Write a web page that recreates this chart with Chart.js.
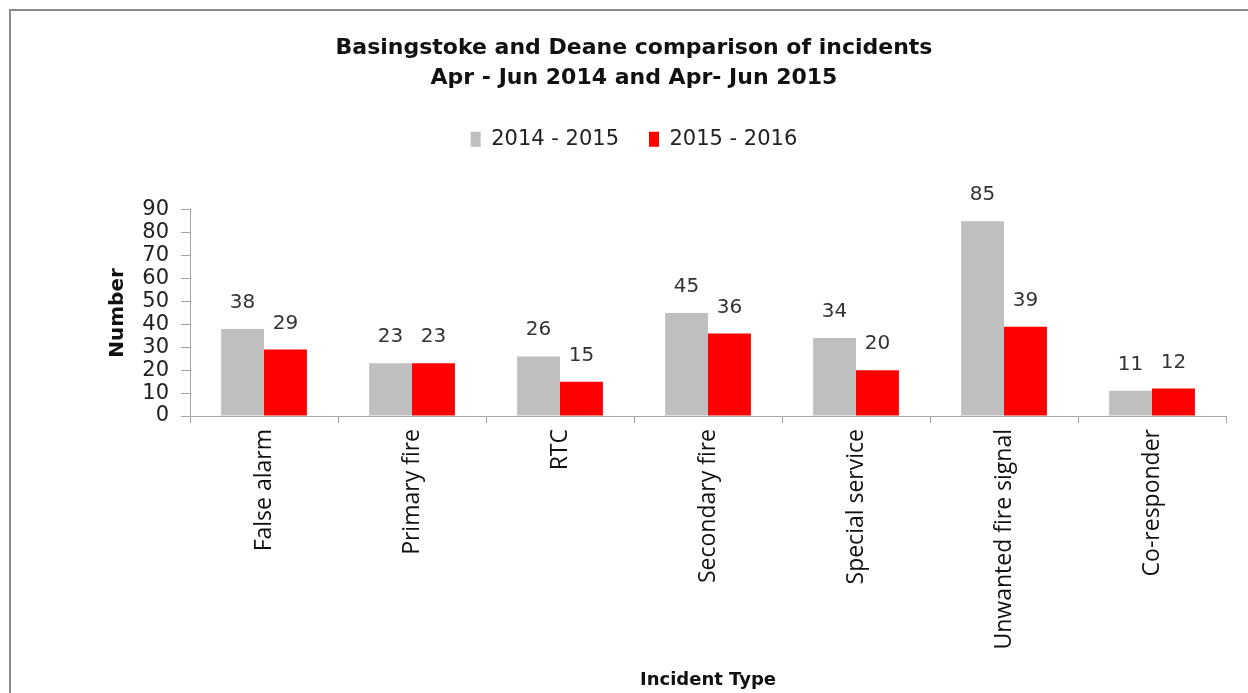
<!DOCTYPE html>
<html lang="en">
  <head>
    <meta charset="UTF-8">
    <title>Basingstoke and Deane incidents</title>
    <script src="https://cdn.jsdelivr.net/npm/chart.js@4"></script>
    <style>
      html, body { margin: 0; padding: 0; background: #fff; overflow: hidden; }
      #frame {
        position: absolute; left: 9px; top: 9px;
        width: 1300px; height: 720px;
        border: 2px solid #8c8c8c; box-sizing: border-box;
      }
      #wrap { position: absolute; left: 0; top: 0; width: 1248px; height: 693px; }
    </style>
  </head>
  <body>
    <div id="frame"></div>
    <div id="wrap"><canvas id="chart"></canvas></div>
    <script>
      const categories = ['False alarm', 'Primary fire', 'RTC', 'Secondary fire',
        'Special service', 'Unwanted fire signal', 'Co-responder']
      const values2014 = [38, 23, 26, 45, 34, 85, 11]
      const values2015 = [29, 23, 15, 36, 20, 39, 12]
      const seriesNames = ['2014 - 2015', '2015 - 2016']
      const titleLines = ['Basingstoke and Deane comparison of incidents',
        'Apr - Jun 2014 and Apr- Jun 2015']

      const wideFont = '"DejaVu Sans", sans-serif'
      const labelFont = '"Open Sans", sans-serif'

      // draws the number above each bar
      const valueLabels = {
        id: 'valueLabels',
        afterDatasetsDraw(chart) {
          const ctx = chart.ctx
          ctx.save()
          ctx.font = '20px ' + wideFont
          ctx.fillStyle = '#333'
          ctx.textAlign = 'center'
          ctx.textBaseline = 'alphabetic'
          chart.data.datasets.forEach((ds, i) => {
            chart.getDatasetMeta(i).data.forEach((bar, j) => {
              ctx.fillText(ds.data[j], bar.x, bar.y - 21)
            })
          })
          ctx.restore()
        }
      }

      // leave a gap under the legend, like the original
      const legendGap = {
        id: 'legendGap',
        afterInit(chart) {
          const legend = chart.legend
          const fit = legend.fit
          legend.fit = function () {
            fit.call(this)
            this.height += 50
          }
        }
      }

      new Chart(document.getElementById('chart'), {
        type: 'bar',
        data: {
          labels: categories,
          datasets: [
            { label: seriesNames[0], data: values2014, backgroundColor: '#bfbfbf' },
            { label: seriesNames[1], data: values2015, backgroundColor: '#ff0000' }
          ]
        },
        options: {
          responsive: true,
          maintainAspectRatio: false,
          animation: false,
          categoryPercentage: 0.58,
          barPercentage: 1,
          layout: { padding: { left: 42, right: 22, top: 33, bottom: 0 } },
          plugins: {
            title: {
              display: true,
              text: titleLines,
              color: '#111',
              font: { family: wideFont, size: 22, weight: 'bold', lineHeight: 1.36 },
              padding: { top: 0, bottom: 6 }
            },
            legend: {
              display: true,
              labels: {
                color: '#222',
                font: { family: wideFont, size: 21 },
                boxWidth: 10,
                boxHeight: 15,
                padding: 30
              }
            },
            tooltip: { enabled: false }
          },
          scales: {
            x: {
              grid: { display: true, drawOnChartArea: false, color: '#a6a6a6', tickLength: 7 },
              border: { color: '#a6a6a6' },
              ticks: {
                color: '#111',
                font: { family: labelFont, size: 23 },
                minRotation: 90,
                maxRotation: 90,
                padding: 6
              },
              title: {
                display: true,
                text: 'Incident Type',
                color: '#111',
                font: { family: wideFont, size: 18, weight: 'bold' },
                padding: { top: 0, bottom: 2 }
              },
              afterFit(scale) { scale.height = 277 }
            },
            y: {
              min: 0,
              max: 90,
              grid: { display: true, drawOnChartArea: false, color: '#a6a6a6', tickLength: 9 },
              border: { color: '#a6a6a6' },
              ticks: {
                stepSize: 10,
                autoSkip: false,
                color: '#222',
                font: { family: wideFont, size: 21 },
                padding: 12
              },
              title: {
                display: true,
                text: 'Number',
                color: '#111',
                font: { family: wideFont, size: 20, weight: 'bold' },
                padding: { top: 64, bottom: 0 }
              },
              afterFit(scale) { scale.width = 148 }
            }
          }
        },
        plugins: [valueLabels, legendGap]
      })
    </script>
  </body>
</html>
